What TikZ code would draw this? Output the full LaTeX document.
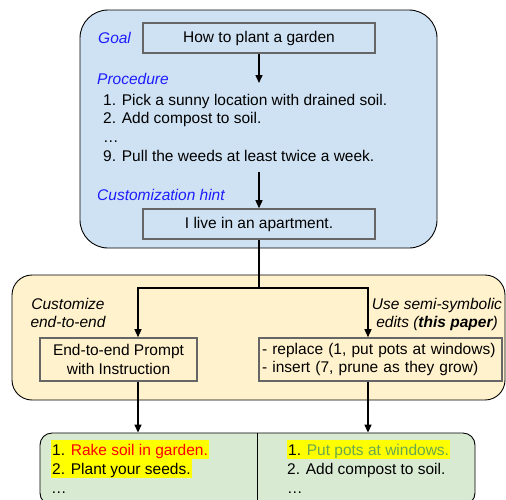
\documentclass[tikz,border=0pt]{standalone}
\usepackage{fontspec}
\setmainfont{Liberation Sans}
\usetikzlibrary{arrows.meta}
\definecolor{bluebg}{HTML}{CFE2F3}
\definecolor{orangebg}{HTML}{FFF2CC}
\definecolor{greenbg}{HTML}{D9EAD3}
\definecolor{boxgray}{HTML}{666666}
\definecolor{labelblue}{HTML}{1C1CFF}
\definecolor{hlyellow}{HTML}{FFFF00}
\definecolor{okgreen}{HTML}{6AA84F}
\definecolor{badred}{HTML}{FF0000}
\begin{document}
\begin{tikzpicture}[x=1pt,y=-1pt,
  every node/.style={font=\fontsize{15.5}{18.5}\selectfont},
  panel/.style={draw=black, line width=0.9pt, rounded corners=#1, inner sep=0pt},
  inbox/.style={draw=boxgray, line width=1.6pt, inner sep=0pt},
  txt/.style={anchor=base west, inner sep=0pt},
  ctxt/.style={anchor=base, inner sep=0pt, font=\fontsize{15.5}{18.5}\selectfont\itshape},
  lab/.style={txt, font=\fontsize{15.5}{18.5}\selectfont\itshape, text=labelblue},
  hl/.style={txt, fill=hlyellow, inner xsep=1pt, inner ysep=0pt, text height=15.5pt, text depth=3.5pt},
  conn/.style={line width=1.4pt},
  arr/.style={conn, -{Triangle[length=8pt,width=7pt]}},
  ]
\clip (0,0) rectangle (506,499);

% panels
\node[panel=28pt, fill=bluebg, minimum width=357pt, minimum height=238pt] (blue) at (258.5,129) {};
\node[panel=20pt, fill=orangebg, minimum width=493pt, minimum height=125pt] (orange) at (258.5,337.5) {};
\node[panel=12pt, fill=greenbg, minimum width=435pt, minimum height=72pt] (green) at (257.5,469) {};
\draw[line width=0.9pt] (green.north) -- (green.south);

% blue panel content
\node[lab] (goallab) at (98,43) {Goal};
\node[inbox, minimum width=232pt, minimum height=30pt] (goal) at (259,38) {How to plant a garden};
\node[lab] (proclab) at (97,84) {Procedure};
\node[txt] (p1) at (103,105) {1. Pick a sunny location with drained soil.};
\node[txt] (p2) at (103,123.3) {2. Add compost to soil.};
\node[txt] (p3) at (103,142) {…};
\node[txt] (p9) at (103,161.7) {9. Pull the weeds at least twice a week.};
\node[lab] (hintlab) at (97,200.7) {Customization hint};
\node[inbox, minimum width=232pt, minimum height=30pt] (apt) at (259,224) {I live in an apartment.};

\coordinate (procEnd) at (259,83);
\coordinate (listEnd) at (259,172);
\draw[arr] (goal.south) -- (procEnd);
\draw[arr] (listEnd) -- (apt.north);

% orange panel content
\node[ctxt] (cust1) at (68,309) {Customize};
\node[ctxt] (cust2) at (68,327.5) {end-to-end};
\node[ctxt] (sem1) at (437,309) {Use semi-symbolic};
\node[ctxt] (sem2) at (437,327.5) {edits (\textbf{this paper})};
\node[inbox, minimum width=157pt, minimum height=43pt, align=center] (e2e) at (118.5,359.5)
  {End-to-end Prompt\\with Instruction};
\node[inbox, minimum width=243pt, minimum height=43pt, inner xsep=3pt, text width=237pt, align=left] (sym) at (380.5,359.5)
  {- replace (1, put pots at windows)\\- insert (7, prune as they grow)};

\coordinate (split) at (259,288);
\coordinate (lTurn) at (138,288);
\coordinate (rTurn) at (368,288);
\draw[conn] (apt.south) -- (split);
\draw[arr] (split) -- (lTurn) -- (lTurn |- e2e.north);
\draw[arr] (split) -- (rTurn) -- (rTurn |- sym.north);
\draw[arr] (lTurn |- e2e.south) -- (lTurn |- green.north);
\draw[arr] (rTurn |- sym.south) -- (rTurn |- green.north);

% green panel content
\node[hl] (l1) at (51,455.5) {1. \textcolor{badred}{Rake soil in garden.}};
\node[hl] (l2) at (51,474) {2. Plant your seeds.};
\node[txt] (l3) at (51,493) {…};
\node[hl] (r1) at (287,455.5) {1. \textcolor{okgreen}{Put pots at windows.}};
\node[txt] (r2) at (287,474) {2. Add compost to soil.};
\node[txt] (r3) at (287,493) {…};
\end{tikzpicture}
\end{document}
